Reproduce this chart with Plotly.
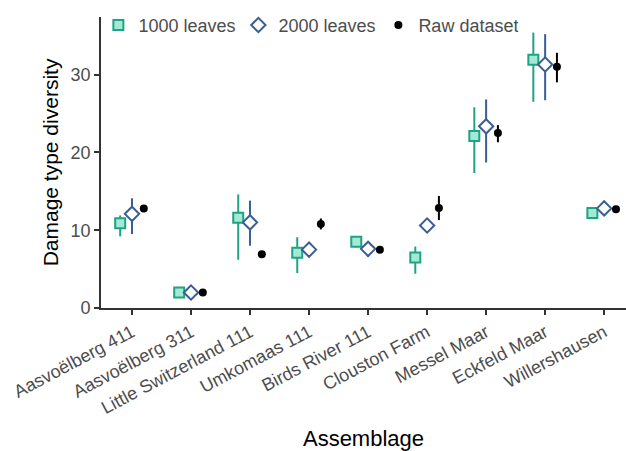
import plotly.graph_objects as go

categories = ["Aasvoëlberg 411", "Aasvoëlberg 311", "Little Switzerland 111", "Umkomaas 111",
              "Birds River 111", "Clouston Farm", "Messel Maar", "Eckfeld Maar", "Willershausen"]

# 1000 leaves rarefaction
mean_1000 = [10.9, 2.0, 11.6, 7.1, 8.5, 6.5, 22.1, 31.9, 12.2]
lo_1000 = [9.2, 1.8, 6.2, 4.5, 7.8, 4.4, 17.35, 26.5, 12.0]
hi_1000 = [11.9, 2.2, 14.6, 9.1, 9.1, 7.9, 25.8, 35.4, 12.4]

# 2000 leaves rarefaction
mean_2000 = [12.1, 2.0, 11.0, 7.5, 7.6, 10.6, 23.35, 31.3, 12.8]
lo_2000 = [9.5, 1.9, 8.0, 7.2, 6.6, 10.4, 18.7, 26.7, 12.7]
hi_2000 = [14.1, 2.1, 13.8, 7.8, 8.2, 10.8, 26.8, 35.2, 12.9]

# Raw dataset
mean_raw = [12.8, 2.0, 6.9, 10.8, 7.5, 12.85, 22.5, 31.0, 12.7]
lo_raw = [12.4, 1.9, 6.8, 10.1, 7.4, 11.3, 21.3, 29.0, 12.6]
hi_raw = [13.2, 2.1, 7.0, 11.5, 7.6, 14.4, 23.5, 32.8, 12.8]

TEAL = "#1fa386"
TEAL_FILL = "#a3e9d3"
BLUE = "#3a5d94"
FONT = "Liberation Sans, Arial, Helvetica, sans-serif"

def series(name, means, lo, hi, offset, color, symbol, fill, size, lw):
    xs = [i + offset for i in range(len(means))]
    return go.Scatter(
        x=xs, y=means, mode="markers", name=name,
        marker=dict(symbol=symbol, size=size, color=fill, line=dict(color=color, width=lw)),
        error_y=dict(type="data", symmetric=False,
                     array=[h - m for h, m in zip(hi, means)],
                     arrayminus=[m - l for m, l in zip(means, lo)],
                     color=color, thickness=2, width=0),
        cliponaxis=False,
    )

fig = go.Figure()
fig.add_trace(series("1000 leaves", mean_1000, lo_1000, hi_1000, -0.2, TEAL, "square", TEAL_FILL, 10, 2))
fig.add_trace(series("2000 leaves", mean_2000, lo_2000, hi_2000, 0.0, BLUE, "diamond", "white", 11, 2))
fig.add_trace(series("Raw dataset", mean_raw, lo_raw, hi_raw, 0.2, "black", "circle", "black", 8, 0))

axis_common = dict(showline=True, linecolor="#333333", linewidth=1.8, ticks="outside",
                   ticklen=5, tickwidth=1.5, tickcolor="#333333", showgrid=False, zeroline=False,
                   automargin=False,
                   tickfont=dict(size=18, color="#4d4d4d", family=FONT))

fig.update_layout(
    width=626, height=451,
    margin=dict(l=101, r=0, t=17, b=143),
    plot_bgcolor="white", paper_bgcolor="white",
    font=dict(family=FONT),
    xaxis=dict(**axis_common, tickmode="array", tickvals=list(range(len(categories))),
               ticktext=categories, tickangle=-28, range=[-0.525, 8.37],
               title=dict(text="Assemblage", font=dict(size=22, color="black", family=FONT), standoff=15)),
    yaxis=dict(**axis_common, range=[0, 37.4], tickvals=[0, 10, 20, 30],
               title=dict(text="Damage type diversity", font=dict(size=21, color="black", family=FONT), standoff=6)),
    legend=dict(orientation="h", x=-0.005, y=1.035, xanchor="left", yanchor="top",
                font=dict(size=18, color="#4d4d4d", family=FONT), bgcolor="rgba(0,0,0,0)",
                itemwidth=30, tracegroupgap=0, entrywidth=95, entrywidthmode="pixels"),
    showlegend=True,
)

fig.write_html("out.html", config={"displayModeBar": False},
               post_script="document.body.style.margin='0';document.body.style.overflow='hidden';")
